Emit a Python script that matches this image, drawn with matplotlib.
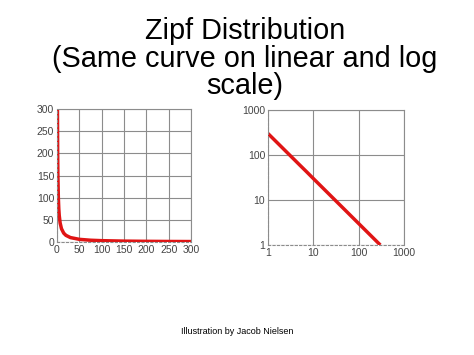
import matplotlib.pyplot as plt

plt.rcParams['font.family'] = ['Liberation Sans', 'DejaVu Sans']

# Zipf curve: rank vs. frequency
rank = [1, 1.5, 2, 3, 4, 5, 7, 10, 15, 20, 30, 50, 75, 100, 150, 200, 250, 300]
freq = [300, 200, 150, 100, 75, 60, 43, 30, 20, 15, 10, 6, 4, 3, 2, 1.5, 1.2, 1]

lin_ticks = [0, 50, 100, 150, 200, 250, 300]
log_ticks = [1, 10, 100, 1000]
log_labels = ['1', '10', '100', '1000']

fig = plt.figure(figsize=(4.74, 3.55), dpi=100)
W, H = 474, 355

def fig_y(px):
    return 1 - px / H

fig.text(245 / W, fig_y(39), "Zipf Distribution", ha='center', va='baseline', fontsize=20.8)
fig.text(245 / W, fig_y(67), "(Same curve on linear and log", ha='center', va='baseline', fontsize=20.8)
fig.text(245 / W, fig_y(94), "scale)", ha='center', va='baseline', fontsize=20.8)
fig.text(237 / W, fig_y(334), "Illustration by Jacob Nielsen", ha='center', va='baseline', fontsize=6.5)

grid_color = '#8c8c8c'
red = '#e01414'

# linear chart
ax1 = fig.add_axes([57 / W, fig_y(242), 134 / W, 133 / H])
ax1.plot(rank, freq, color=red, lw=2.5, solid_capstyle='butt')
ax1.set_xlim(0, 300)
ax1.set_ylim(0, 300)
ax1.set_xticks(lin_ticks)
ax1.set_yticks(lin_ticks)
ax1.grid(True, color=grid_color, lw=0.8)
for s in ax1.spines.values():
    s.set_color(grid_color)
    s.set_linewidth(0.8)
ax1.spines['bottom'].set_linestyle((0, (2, 2)))
ax1.spines['left'].set_linestyle((0, (2, 2)))
ax1.tick_params(length=0, pad=2, labelsize=7.5, colors='#444444')

# log-log chart
ax2 = fig.add_axes([268 / W, fig_y(245), 136 / W, 135 / H])
ax2.plot(rank, freq, color=red, lw=2.5, solid_capstyle='butt')
ax2.set_xscale('log')
ax2.set_yscale('log')
ax2.set_xlim(1, 1000)
ax2.set_ylim(1, 1000)
ax2.set_xticks(log_ticks)
ax2.set_xticklabels(log_labels)
ax2.set_yticks(log_ticks)
ax2.set_yticklabels(log_labels)
ax2.minorticks_off()
ax2.grid(True, color=grid_color, lw=0.8)
for s in ax2.spines.values():
    s.set_color(grid_color)
    s.set_linewidth(0.8)
ax2.spines['bottom'].set_linestyle((0, (2, 2)))
ax2.spines['left'].set_linestyle((0, (2, 2)))
ax2.tick_params(length=0, pad=2, labelsize=7.5, colors='#444444')

fig.savefig("out.png", dpi=100)
